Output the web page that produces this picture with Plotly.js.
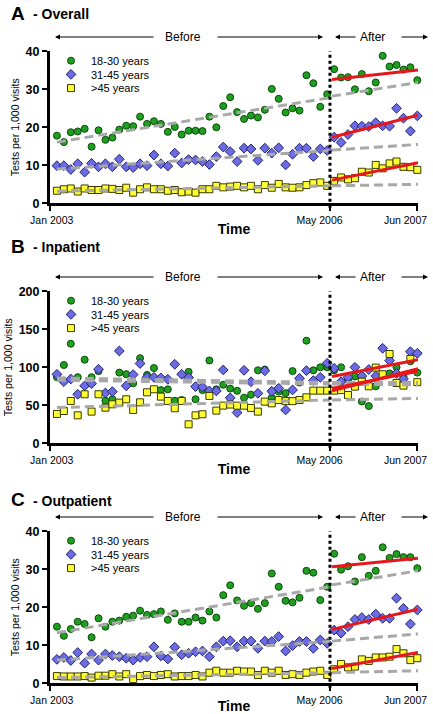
<!DOCTYPE html>
<html><head><meta charset="utf-8">
<script src="https://cdn.plot.ly/plotly-3.0.1.min.js"></script>
<style>html,body{margin:0;padding:0;background:#fff}#chart{width:433px;height:714px}</style>
</head><body><div id="chart"></div>
<script>
// ---- Month positions: Feb 2003 .. Jun 2007 (53 monthly points; 40 before, 13 after) ----
const nPoints = 53;
const tickText = ['Jan 2003', 'May 2006', 'Jun 2007'];
const tickLabelPos = [-0.75, 37.9, 50.3];
const tickMarkPos = [-1, 39.4, 52];
const interventionX = 39.4;
const trendBeforeX = [0, 39.4];
const trendAfterX = [39.7, 52.1];

// ---- Panel A: Overall (tests per 1,000 visits) ----
const A_1830 = [17.8,16.1,18.7,18.9,19.6,14.9,19.2,16.7,17.3,19.4,20.4,20.3,22.8,20.9,21.6,20.9,18.8,20.1,18.1,19.1,19.1,19.0,22.8,20.0,25.6,27.9,24.0,22.2,23.1,22.6,24.6,30.1,27.5,23.9,25.0,24.4,33.7,31.6,25.4,28.7,
  35.3,33.1,33.2,30.0,34.0,29.5,31.8,38.8,36.0,36.4,35.2,35.8,32.4];
const A_3145 = [9.9,9.9,8.9,10.4,8.2,10.5,9.6,10.4,9.6,11.6,9.6,9.4,10.4,9.9,12.7,10.4,9.8,13.2,10.6,11.5,11.4,11.0,10.2,12.3,14.8,13.6,11.0,14.5,14.3,11.3,14.5,13.2,14.6,10.1,12.9,14.5,14.5,12.3,14.3,13.9,
  17.4,16.0,18.1,20.4,20.3,20.2,21.2,20.4,20.3,25.0,22.4,19.0,23.0];
const A_45p = [3.3,3.7,3.9,3.1,3.9,3.5,3.5,3.9,3.8,3.5,4.1,2.8,3.7,4.2,3.7,3.7,3.3,3.5,2.9,3.1,2.8,3.7,3.7,4.6,4.2,4.4,4.6,4.2,4.6,3.7,4.8,4.1,5.1,4.2,4.1,4.2,4.8,5.3,5.5,4.6,
  5.9,6.8,6.3,6.6,8.3,8.1,10.1,9.2,10.5,11.0,9.6,9.5,8.8];
const A_pre_1830 = [16.1, 27.8], A_cf_1830 = [28.2, 31.8], A_post_1830 = [32.6, 35.1];
const A_pre_3145 = [9.0, 13.9],  A_cf_3145 = [14.0, 15.5], A_post_3145 = [17.4, 23.2];
const A_pre_45p  = [3.2, 4.6],   A_cf_45p  = [4.6, 5.0],   A_post_45p  = [6.1, 10.7];

// ---- Panel B: Inpatient ----
const B_1830 = [87,103,131,87,110,87,95,56,58,93,91,79,112,90,99,70,71,56,57,94,58,70,109,71,77,72,69,60,64,96,97,60,68,66,95,80,135,96,100,100,
  96,100,84,88,55,49,75,90,92,100,88,108,93];
const B_3145 = [90.8,81.1,84.6,64.5,75.6,78.5,97.4,66.2,68,121.5,75.6,90.4,105,86.8,86.8,86,84.2,104,90.8,86.4,74.6,74,68.9,68.9,96.5,59.8,40.4,96,81,65.8,95.4,68.5,72.4,43.9,70.2,85.5,95.6,82.5,86.8,105.3,
  98.7,81.1,86.8,100,88.6,97,88.6,125,108.8,92,84.6,120.6,118.4];
const B_45p = [38.6,42.5,55.7,36.8,64.5,41.7,64.5,46.9,51.3,53.5,57.9,43.9,53.9,67.1,71.1,61.4,55.7,46.1,55.7,25.0,36.8,38.2,62.3,43.0,49.6,51.0,49.5,49.5,46.5,41.7,54.8,52.6,57.0,55.5,55.5,57.0,60.5,69.3,69.3,69.3,
  69.3,70.0,63.6,74.6,81.1,75.0,99.6,90.8,117.5,79.3,75.9,111.0,80.5];
const B_pre_1830 = [83, 78], B_cf_1830 = [78, 77], B_post_1830 = [72, 95];
const B_pre_3145 = [86, 80], B_cf_3145 = [80, 80], B_post_3145 = [88, 110];
const B_pre_45p  = [47, 57], B_cf_45p  = [57, 59], B_post_45p  = [69, 98];

// ---- Panel C: Outpatient ----
const C_1830 = [14.9,12.5,14.3,16.2,15.6,12.1,17.1,14.9,16.2,16.5,17.5,17.8,19.1,18.0,18.2,18.9,16.7,18.4,16.2,16.2,17.3,16.5,18.9,17.3,23.2,25.8,21.8,20.4,21.1,19.6,21.1,28.9,25.4,21.7,21.3,22.5,29.6,29.1,21.9,25.4,
  34.1,29.9,30.8,26.8,33.2,28.3,29.6,35.8,33.0,34.0,33.2,33.2,30.3];
const C_3145 = [6.3,6.8,6.0,8.1,5.3,7.7,6.1,7.7,7.3,7.0,6.6,6.1,6.8,7.0,9.6,7.2,6.4,9.5,7.5,7.9,8.3,8.5,7.0,9.6,11.1,11.2,9.6,11.1,11.1,9.2,11.1,11.0,12.3,8.5,9.9,11.0,11.0,9.2,11.4,10.5,
  14.0,13.2,14.9,16.8,17.3,16.8,18.2,17.1,17.1,22.4,19.7,15.6,19.3];
const C_45p = [1.9,1.8,1.8,1.8,1.9,1.5,2.0,2.0,2.4,1.8,2.4,1.1,1.9,2.2,1.9,2.2,2.4,1.8,1.9,1.9,2.2,1.8,2.8,3.3,2.8,2.8,3.3,3.1,3.1,2.2,3.3,2.8,3.3,2.2,2.4,2.2,2.8,3.1,3.3,2.2,
  3.7,5.1,4.2,4.4,6.3,5.9,6.8,6.8,7.0,9.0,7.9,6.1,6.6];
const C_pre_1830 = [13.3, 25.4], C_cf_1830 = [25.9, 29.6], C_post_1830 = [30.7, 32.9];
const C_pre_3145 = [6.1, 11.0],  C_cf_3145 = [11.1, 13.0], C_post_3145 = [14.2, 19.5];
const C_pre_45p  = [1.5, 2.8],   C_cf_45p  = [2.8, 3.3],   C_post_45p  = [3.9, 8.1];

const groupNames = ['18-30 years', '31-45 years', '>45 years'];
const panelTitles = ['A', 'B', 'C'];
const panelNames = ['- Overall', '- Inpatient', '- Outpatient'];
const yMax = [40, 200, 40];
const yStep = [10, 50, 10];

// ---- layout geometry (pixels) ----
const W = 433, H = 714, L = 50, R = 15, PW = W - L - R;
const plotTop = [51.3, 291.3, 531.3];
const plotH = 152;
const titleY = [13, 246, 500];
const legendRowOffset = [9.6, 23.3, 37];
const px2x = p => (p - L) / PW;
const py2y = p => 1 - p / H;

const GREEN = '#1f9f1f', GREEN_E = '#0b4a0b';
const BLUE = '#6b6be3', BLUE_E = '#23236e';
const YELLOW = '#ffff33', YELLOW_E = '#3a3a00';
const GRAY = '#a8a8a8', RED = '#e8161b';

const xIdx = Array.from({length: nPoints}, (_, i) => i);

const panels = [
  {pts: [A_1830, A_3145, A_45p], pre: [A_pre_1830, A_pre_3145, A_pre_45p], cf: [A_cf_1830, A_cf_3145, A_cf_45p], post: [A_post_1830, A_post_3145, A_post_45p]},
  {pts: [B_1830, B_3145, B_45p], pre: [B_pre_1830, B_pre_3145, B_pre_45p], cf: [B_cf_1830, B_cf_3145, B_cf_45p], post: [B_post_1830, B_post_3145, B_post_45p]},
  {pts: [C_1830, C_3145, C_45p], pre: [C_pre_1830, C_pre_3145, C_pre_45p], cf: [C_cf_1830, C_cf_3145, C_cf_45p], post: [C_post_1830, C_post_3145, C_post_45p]}
];

const markerStyles = [
  {symbol: 'circle', size: 7, color: GREEN, line: {color: GREEN_E, width: 1}},
  {symbol: 'diamond', size: 7.5, color: BLUE, line: {color: BLUE_E, width: 1}},
  {symbol: 'square', size: 7, color: YELLOW, line: {color: YELLOW_E, width: 1}}
];

const data = [];
const layout = {
  width: W, height: H,
  margin: {l: L, r: R, t: 0, b: 0},
  paper_bgcolor: '#fff', plot_bgcolor: '#fff',
  font: {family: 'Arial, Liberation Sans, sans-serif', color: '#000'},
  showlegend: true,
  annotations: [], shapes: []
};

panels.forEach((p, k) => {
  const sfx = k === 0 ? '' : String(k + 1);
  const xa = 'x' + sfx, ya = 'y' + sfx;
  const top = plotTop[k], bot = plotTop[k] + plotH;
  // points, one legend box per row so row spacing can match
  p.pts.forEach((vals, g) => {
    const legNum = k * 3 + g + 1;
    const leg = legNum === 1 ? 'legend' : 'legend' + legNum;
    data.push({type: 'scatter', mode: 'markers', x: xIdx, y: vals, xaxis: xa, yaxis: ya,
      name: groupNames[g], legend: leg, marker: markerStyles[g], cliponaxis: false, hoverinfo: 'x+y'});
    layout[leg] = {
      x: px2x(51), y: py2y(top + legendRowOffset[g] - 14.7), xanchor: 'left', yanchor: 'top',
      bgcolor: 'rgba(0,0,0,0)', borderwidth: 0, font: {size: 11}, tracegroupgap: 0
    };
  });
  // gray trend (before) and counterfactual (after)
  p.pre.forEach(v => data.push({type: 'scatter', mode: 'lines', x: trendBeforeX, y: v, xaxis: xa, yaxis: ya,
    showlegend: false, hoverinfo: 'skip', line: {color: GRAY, width: 3, dash: '9px,5px'}}));
  p.cf.forEach(v => data.push({type: 'scatter', mode: 'lines', x: trendAfterX, y: v, xaxis: xa, yaxis: ya,
    showlegend: false, hoverinfo: 'skip', line: {color: GRAY, width: 3, dash: '9px,5px'}}));
  // red post trend
  p.post.forEach(v => data.push({type: 'scatter', mode: 'lines', x: trendAfterX, y: v, xaxis: xa, yaxis: ya,
    showlegend: false, hoverinfo: 'skip', line: {color: RED, width: 3}}));

  layout['xaxis' + sfx] = {
    domain: [0, 1], anchor: ya, range: [-1, 52.1],
    showline: true, linewidth: 3, linecolor: '#000', mirror: false,
    showgrid: false, zeroline: false,
    tickmode: 'array', tickvals: tickLabelPos, ticktext: tickText, ticks: '',
    ticklabelstandoff: 5,
    tickfont: {size: 10.5, color: '#000'},
    minor: {tickmode: 'array', tickvals: tickMarkPos, ticks: 'outside', ticklen: 5, tickwidth: 2, tickcolor: '#000', showgrid: false},
    title: {text: 'Time', font: {size: 14, weight: 'bold'}, standoff: 0},
    fixedrange: true
  };
  layout['yaxis' + sfx] = {
    domain: [py2y(bot), py2y(top)], anchor: xa, range: [0, yMax[k]],
    showline: true, linewidth: 3, linecolor: '#000',
    showgrid: false, zeroline: false,
    tickmode: 'linear', tick0: 0, dtick: yStep[k],
    ticks: 'outside', ticklen: 5, tickwidth: 2, tickcolor: '#000',
    tickfont: {size: 12.5, weight: 'bold'},
    title: {text: 'Tests per 1,000 visits', font: {size: 10.5}, standoff: 4},
    fixedrange: true
  };

  // panel title
  layout.annotations.push({xref: 'paper', yref: 'paper', x: px2x(9), y: py2y(titleY[k]), xanchor: 'left', yanchor: 'middle',
    text: '<b>' + panelTitles[k] + '</b>', showarrow: false, font: {size: 19}});
  layout.annotations.push({xref: 'paper', yref: 'paper', x: px2x(31), y: py2y(titleY[k] + 1), xanchor: 'left', yanchor: 'middle',
    text: '<b>' + panelNames[k] + '</b>', showarrow: false, font: {size: 14}});

  // Before / After labels with arrows
  const ay = top - 14.3;
  layout.annotations.push({xref: 'paper', yref: 'paper', x: px2x(183), y: py2y(ay), xanchor: 'center', yanchor: 'middle',
    text: 'Before', showarrow: false, font: {size: 12}});
  layout.annotations.push({xref: 'paper', yref: 'paper', x: px2x(372), y: py2y(ay), xanchor: 'center', yanchor: 'middle',
    text: 'After', showarrow: false, font: {size: 12}});
  [[55, 155], [323, 216], [335, 357], [428, 400]].forEach(([tip, tail]) => {
    layout.annotations.push({xref: 'paper', yref: 'paper', x: px2x(tip), y: py2y(ay), axref: 'pixel', ayref: 'pixel',
      ax: tail - tip, ay: 0, text: '', showarrow: true, arrowhead: 2, arrowsize: 1, arrowwidth: 1, arrowcolor: '#000', standoff: 0, startstandoff: 0});
  });

  // intervention dotted line
  layout.shapes.push({type: 'line', xref: xa, yref: ya + ' domain', x0: interventionX, x1: interventionX, y0: -0.03, y1: 1,
    line: {color: '#000', width: 3, dash: 'dot'}});
});

Plotly.newPlot('chart', data, layout, {displayModeBar: false, staticPlot: true});
</script></body></html>
